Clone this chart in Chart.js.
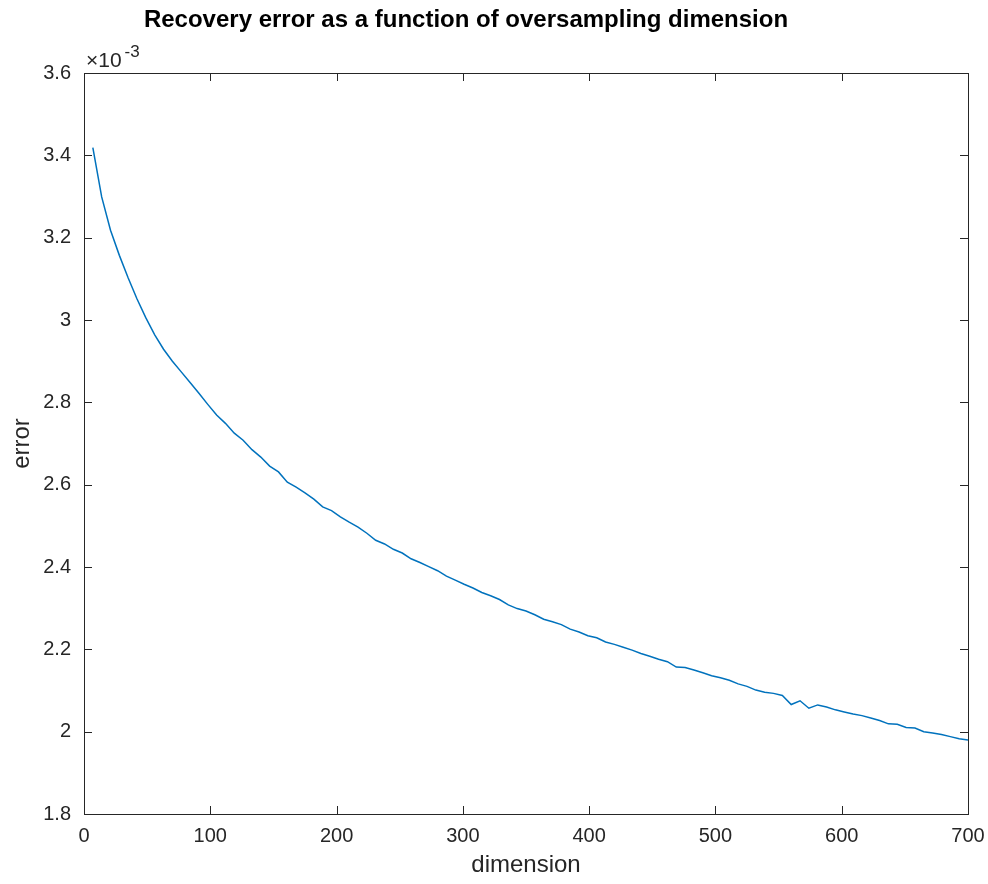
<!DOCTYPE html>
<html>
<head>
<meta charset="utf-8">
<script src="https://cdn.jsdelivr.net/npm/chart.js@4.4.0/dist/chart.umd.min.js"></script>
<style>
  html, body { margin: 0; padding: 0; background: #fff; }
  #wrap { width: 988px; height: 884px; }
</style>
</head>
<body>
<div id="wrap"><canvas id="chart" width="988" height="884"></canvas></div>
<script>
// oversampling dimension (x values)
const dims = [
  7, 14, 21, 28, 35, 42, 49, 56, 63, 70,
  77, 84, 91, 98, 105, 112, 119, 126, 133, 140,
  147, 154, 161, 168, 175, 182, 189, 196, 203, 210,
  217, 224, 231, 238, 245, 252, 259, 266, 273, 280,
  287, 294, 301, 308, 315, 322, 329, 336, 343, 350,
  357, 364, 371, 378, 385, 392, 399, 406, 413, 420,
  427, 434, 441, 448, 455, 462, 469, 476, 483, 490,
  497, 504, 511, 518, 525, 532, 539, 546, 553, 560,
  567, 574, 581, 588, 595, 602, 609, 616, 623, 630,
  637, 644, 651, 658, 665, 672, 679, 686, 693, 700
];

// recovery error
const errs = [
  3.419e-3, 3.299e-3, 3.218e-3, 3.157e-3, 3.102e-3, 3.051e-3, 3.005e-3, 2.964e-3, 2.929e-3, 2.900e-3,
  2.874e-3, 2.848e-3, 2.822e-3, 2.795e-3, 2.769e-3, 2.749e-3, 2.725e-3, 2.708e-3, 2.685e-3, 2.667e-3,
  2.645e-3, 2.631e-3, 2.606e-3, 2.594e-3, 2.580e-3, 2.565e-3, 2.546e-3, 2.537e-3, 2.522e-3, 2.509e-3,
  2.497e-3, 2.482e-3, 2.465e-3, 2.456e-3, 2.443e-3, 2.434e-3, 2.420e-3, 2.411e-3, 2.401e-3, 2.391e-3,
  2.378e-3, 2.368e-3, 2.358e-3, 2.349e-3, 2.338e-3, 2.330e-3, 2.321e-3, 2.308e-3, 2.299e-3, 2.293e-3,
  2.284e-3, 2.273e-3, 2.267e-3, 2.260e-3, 2.249e-3, 2.242e-3, 2.233e-3, 2.228e-3, 2.218e-3, 2.212e-3,
  2.205e-3, 2.198e-3, 2.190e-3, 2.183e-3, 2.176e-3, 2.170e-3, 2.157e-3, 2.156e-3, 2.150e-3, 2.143e-3,
  2.136e-3, 2.131e-3, 2.125e-3, 2.116e-3, 2.110e-3, 2.101e-3, 2.096e-3, 2.093e-3, 2.088e-3, 2.066e-3,
  2.075e-3, 2.057e-3, 2.065e-3, 2.060e-3, 2.053e-3, 2.048e-3, 2.043e-3, 2.039e-3, 2.033e-3, 2.027e-3,
  2.019e-3, 2.018e-3, 2.010e-3, 2.009e-3, 2.000e-3, 1.997e-3, 1.993e-3, 1.988e-3, 1.983e-3, 1.980e-3
];

const xTicks = [0, 100, 200, 300, 400, 500, 600, 700];
const yTicks = [1.8e-3, 2.0e-3, 2.2e-3, 2.4e-3, 2.6e-3, 2.8e-3, 3.0e-3, 3.2e-3, 3.4e-3, 3.6e-3];

const titleText = 'Recovery error as a function of oversampling dimension';
const axisColor = '#262626';
const fontFamily = '"Liberation Sans", Arial, Helvetica, sans-serif';

//draws the matlab style box, inward ticks, title and exponent
const boxPlugin = {
  id: 'matlabBox',
  afterDraw(chart) {
    const ctx = chart.ctx;
    const area = chart.chartArea;
    const xs = chart.scales.x;
    const ys = chart.scales.y;
    const tickLen = 8;
    ctx.save();
    ctx.strokeStyle = axisColor;
    ctx.lineWidth = 1;
    ctx.strokeRect(area.left + 0.5, area.top + 0.5, area.right - area.left, area.bottom - area.top);
    ctx.beginPath();
    xTicks.forEach((t) => {
      const px = Math.round(xs.getPixelForValue(t)) + 0.5;
      ctx.moveTo(px, area.bottom);
      ctx.lineTo(px, area.bottom - tickLen);
      ctx.moveTo(px, area.top);
      ctx.lineTo(px, area.top + tickLen);
    });
    yTicks.forEach((t) => {
      const py = Math.round(ys.getPixelForValue(t)) + 0.5;
      ctx.moveTo(area.left, py);
      ctx.lineTo(area.left + tickLen, py);
      ctx.moveTo(area.right, py);
      ctx.lineTo(area.right - tickLen, py);
    });
    ctx.stroke();

    //exponent label
    ctx.fillStyle = axisColor;
    ctx.textBaseline = 'alphabetic';
    ctx.textAlign = 'left';
    ctx.font = '21px ' + fontFamily;
    ctx.fillText('\u00d710', area.left + 2, area.top - 6);
    const w = ctx.measureText('\u00d710').width;
    ctx.font = '17px ' + fontFamily;
    ctx.fillText('-3', area.left + 2 + w + 3, area.top - 16);

    //title
    ctx.fillStyle = '#000';
    ctx.textAlign = 'center';
    ctx.font = 'bold 24px ' + fontFamily;
    ctx.fillText(titleText, 466, 27);
    ctx.restore();
  },
};

const data = {
  datasets: [
    {
      data: dims.map((d, i) => ({ x: d, y: errs[i] })),
      borderColor: '#0072BD',
      borderWidth: 1.5,
      pointRadius: 0,
      tension: 0,
      fill: false,
    },
  ],
};

new Chart(document.getElementById('chart'), {
  type: 'line',
  data: data,
  plugins: [boxPlugin],
  options: {
    responsive: false,
    animation: false,
    layout: { padding: { top: 73, right: 20, left: 0, bottom: 0 } },
    plugins: {
      legend: { display: false },
      tooltip: { enabled: false },
      title: { display: false },
    },
    scales: {
      x: {
        type: 'linear',
        min: 0,
        max: 700,
        grid: { display: false, drawTicks: false },
        border: { display: false },
        afterFit: (scale) => {
          scale.height = 70;
          scale.paddingLeft = 0;
          scale.paddingRight = 0;
        },
        afterBuildTicks: (scale) => { scale.ticks = xTicks.map((v) => ({ value: v })); },
        ticks: {
          padding: 10,
          maxRotation: 0,
          color: axisColor,
          font: { family: fontFamily, size: 20 },
        },
        title: {
          display: true,
          text: 'dimension',
          color: axisColor,
          padding: { top: 0, bottom: 4 },
          font: { family: fontFamily, size: 24 },
        },
      },
      y: {
        type: 'linear',
        min: 1.8e-3,
        max: 3.6e-3,
        grid: { display: false, drawTicks: false },
        border: { display: false },
        afterFit: (scale) => {
          scale.width = 84;
          scale.paddingTop = 0;
          scale.paddingBottom = 0;
        },
        afterBuildTicks: (scale) => { scale.ticks = yTicks.map((v) => ({ value: v })); },
        ticks: {
          padding: 13,
          color: axisColor,
          font: { family: fontFamily, size: 20 },
          callback: (v) => parseFloat((v * 1000).toFixed(1)).toString(),
        },
        title: {
          display: true,
          text: 'error',
          color: axisColor,
          padding: { top: 8, bottom: 0 },
          font: { family: fontFamily, size: 24 },
        },
      },
    },
  },
});
</script>
</body>
</html>
